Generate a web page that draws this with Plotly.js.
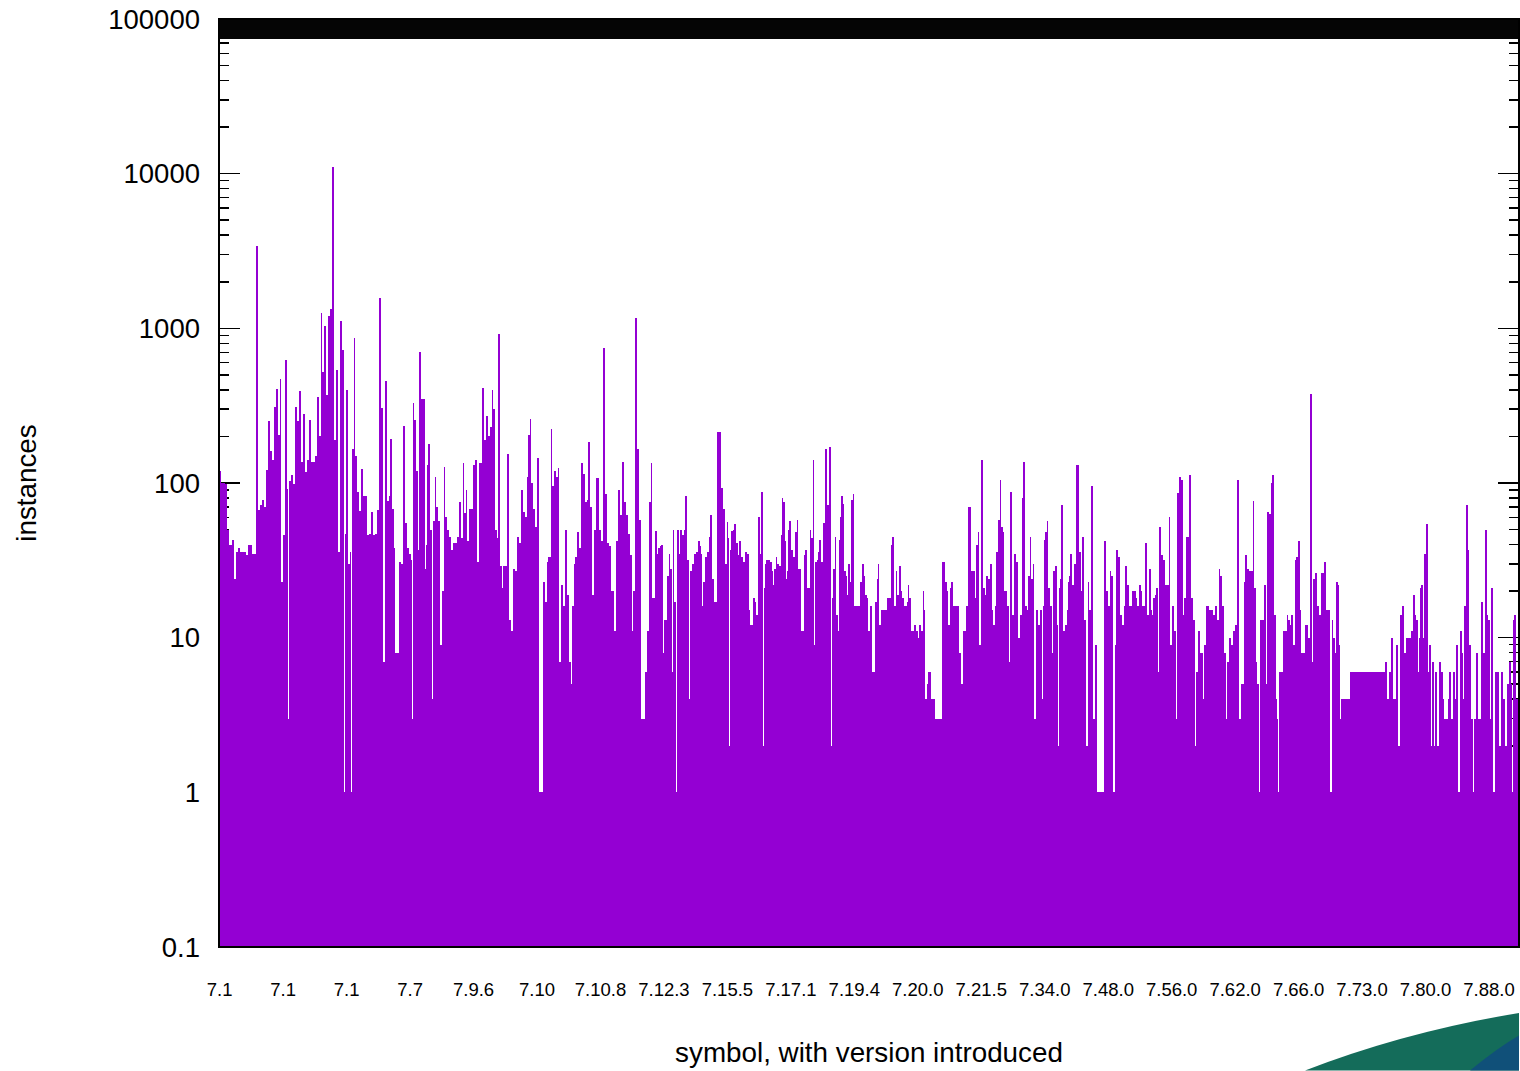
<!DOCTYPE html>
<html><head><meta charset="utf-8">
<script src="https://cdn.plot.ly/plotly-3.0.1.min.js"></script>
<style>html,body{margin:0;padding:0;background:#fff;overflow:hidden}#c{width:1520px;height:1071px}</style>
</head><body><div id="c"></div>
<script>
// [rank within section, instances]
const sectionA=[[12,120],[21,100],[27,100],[33,98],[39,50],[45,40],[54,43],[60,24],[66,36],[72,38],[78,36],[84,36],[90,36],[96,34],[102,40],[108,40],[114,35],[120,35],[128,3400],[132,67],[138,72],[144,78],[150,70],[156,122],[162,253],[168,162],[174,140],[180,310],[186,405],[192,205],[195,470],[201,23],[207,46],[213,620],[219,92],[221,3],[225,103],[231,113],[237,98],[243,310],[249,253],[255,393],[261,137],[267,278],[273,117],[279,140],[285,255],[291,137],[297,137],[303,150],[309,360],[315,200],[318,1260],[324,520],[330,1030],[336,370],[342,1200],[348,1330],[354,11000],[360,190],[366,540],[372,36],[378,1120],[384,720],[387,1],[390,47],[396,400],[402,30],[405,36],[409,1],[414,165],[418,860],[424,150],[429,88],[435,66],[441,124],[447,82],[453,83],[459,46],[465,47],[471,65],[477,46],[483,47],[489,67],[495,1580],[501,305],[507,7],[512,455],[518,77],[524,83],[528,192],[534,68],[537,38],[543,8],[549,8],[555,31],[561,30],[567,235],[573,55],[579,38],[585,35],[591,32],[593,3],[595,330],[600,255],[606,120],[609,37],[615,700],[621,350],[627,350],[630,28],[633,40],[636,130],[642,178],[648,50],[651,4],[657,57],[660,110],[666,70],[672,57],[678,9],[684,20],[687,127]];
const sectionB=[[18,60],[24,50],[30,45],[36,37],[42,41],[48,41],[54,45],[60,75],[66,44],[70,135],[76,64],[80,90],[84,42],[90,68],[96,68],[102,130],[108,140],[114,31],[122,135],[130,410],[135,190],[142,270],[148,200],[154,230],[157,400],[162,300],[168,50],[172,44],[177,920],[183,29],[187,21],[192,29],[198,29],[205,155],[211,13],[216,11],[222,28],[228,27],[234,45],[240,41],[246,90],[252,65],[258,60],[262,110],[268,205],[271,260],[277,100],[283,68],[289,52],[295,145],[301,1],[307,1],[313,23],[319,17],[322,31],[328,33],[335,225],[338,95],[344,120],[350,110],[355,125],[361,7],[367,22],[373,16],[377,50],[383,19],[389,7],[394,5],[398,16],[403,30],[407,33],[414,48],[420,38],[424,135],[431,115],[437,75],[442,78],[447,185],[453,70],[459,19],[465,50],[472,107],[479,50],[485,42],[491,750],[498,85],[504,41],[511,39],[517,20],[524,11],[532,42],[538,90],[544,62],[550,137],[556,75],[562,62],[568,47],[573,34],[578,11],[580,20],[587,1170],[594,165],[601,58],[607,3],[613,3],[619,6],[625,11],[630,75],[634,135],[640,18],[647,49],[653,35],[657,38]];
const sectionC=[[0,39],[6,40],[10,8],[14,13],[20,13],[24,25],[28,35],[34,28],[36,6],[40,50],[46,17],[49,1],[54,50],[58,35],[64,50],[70,46],[74,50],[78,82],[84,32],[87,4],[92,27],[98,30],[104,35],[110,36],[116,42],[122,39],[126,35],[128,16],[132,23],[138,33],[144,36],[147,45],[152,62],[158,24],[166,17],[175,215],[181,215],[187,93],[193,68],[195,2],[197,30],[202,56],[206,44],[208,2],[210,44],[211,37],[215,49],[220,50],[225,54],[231,41],[236,34],[240,42],[246,33],[252,31],[257,36],[263,35],[268,15],[274,12],[282,18],[286,17],[291,14],[297,60],[301,35],[307,88],[309,21],[311,2],[313,21],[316,30],[322,32],[328,32],[334,31],[338,27],[341,22],[345,28],[349,33],[355,30],[360,29],[364,46],[368,80],[372,75],[376,42],[379,24],[382,27],[386,50],[390,57],[396,37],[402,33],[407,48],[412,58],[418,28],[425,11],[431,11],[433,34],[438,37],[443,21],[447,21],[450,50],[455,44],[460,140],[464,9],[468,31],[472,32],[475,36],[479,43],[485,31],[491,55],[497,165],[503,72],[510,170],[514,2],[516,18],[522,28],[526,45],[531,14],[534,11],[537,43],[541,60],[546,82],[550,73],[554,27],[559,25],[563,19],[567,30],[572,23],[575,78],[580,85],[586,16],[592,16],[598,16],[602,23],[608,30],[614,25],[618,19],[622,18],[628,11],[634,16],[640,6],[644,6],[648,17],[652,24],[656,30]];
const sectionD=[[0,12],[6,15],[12,15],[18,15],[24,18],[30,18],[33,40],[40,45],[44,16],[50,27],[54,19],[60,29],[65,20],[68,18],[73,16],[78,16],[82,17],[85,22],[90,18],[93,11],[98,11],[104,12],[110,11],[115,10],[120,12],[125,11],[130,20],[134,15],[138,4],[142,5],[148,6],[155,4],[161,4],[168,3],[176,3],[184,3],[190,31],[197,23],[202,20],[206,12],[212,21],[216,23],[222,16],[228,16],[234,16],[240,8],[246,5],[252,11],[256,11],[262,16],[268,70],[275,27],[281,27],[286,18],[291,40],[295,48],[300,9],[307,140],[313,21],[317,19],[321,25],[326,24],[333,30],[338,15],[342,12],[346,16],[351,36],[356,58],[361,105],[366,52],[370,48],[376,20],[383,16],[388,7],[393,88],[399,14],[405,35],[412,31],[417,10],[423,14],[426,80],[431,137],[437,16],[443,15],[447,25],[451,45],[455,24],[460,30],[465,3],[470,15],[476,12],[482,15],[487,4],[491,16],[494,43],[498,48],[502,57],[506,21],[512,16],[517,8],[522,27],[527,29],[533,12],[535,2],[538,21],[541,24],[546,72],[551,11],[557,12],[562,15],[565,23],[568,25],[574,35],[579,22],[585,30],[592,130],[599,36],[604,20],[609,45],[615,13],[620,2],[625,23],[631,15],[637,95],[642,3],[648,9],[656,1]];
const sectionE=[[3,1],[10,1],[16,42],[22,20],[27,16],[31,27],[37,25],[42,1],[46,9],[52,37],[58,33],[64,14],[68,12],[73,16],[79,29],[84,22],[88,16],[93,16],[99,20],[104,20],[109,18],[114,16],[119,22],[124,20],[128,16],[133,16],[139,41],[145,14],[149,28],[154,15],[158,14],[161,18],[166,19],[171,21],[175,6],[180,52],[186,34],[191,32],[197,22],[203,22],[209,60],[213,9],[218,16],[224,11],[229,3],[234,86],[241,110],[245,105],[250,14],[255,18],[260,45],[265,45],[269,112],[276,18],[283,13],[287,2],[291,6],[297,11],[302,8],[307,8],[310,4],[315,9],[323,16],[329,15],[335,15],[341,14],[347,16],[353,13],[358,28],[364,25],[370,16],[376,8],[380,3],[383,7],[390,10],[396,9],[402,11],[409,12],[415,105],[421,3],[427,5],[434,23],[438,34],[444,28],[450,27],[456,27],[460,76],[465,21],[470,7],[474,5],[478,1],[482,13],[488,13],[494,22],[499,5],[505,65],[510,63],[513,100],[518,113],[524,14],[530,4],[533,3],[536,1],[540,6],[546,6],[552,11],[557,11],[562,14],[567,13],[570,12],[576,14],[581,9],[586,32],[591,33],[596,42],[601,15],[606,8],[612,8],[616,12],[621,12],[626,10],[632,375],[637,7],[642,24],[648,26],[654,16],[658,14]];
const sectionF=[[60,14],[67,26],[76,31],[82,15],[88,15],[92,1],[97,13],[102,10],[106,8],[111,23],[116,22],[119,9],[122,3],[126,4],[130,4],[140,4],[146,4],[152,6],[160,6],[170,6],[180,6],[190,6],[200,6],[210,6],[220,6],[230,6],[240,6],[250,6],[259,7],[264,4],[269,6],[276,10],[281,4],[286,4],[292,9],[298,2],[303,14],[310,16],[315,8],[320,10],[326,10],[331,10],[336,11],[342,19],[347,14],[351,13],[354,6],[357,10],[361,21],[366,22],[370,10],[375,35],[380,54],[386,6],[390,9],[395,2],[399,7],[404,2],[408,6],[413,2],[419,7],[425,6],[430,4],[436,3],[442,3],[446,4],[450,6],[456,3],[462,6],[466,4],[472,9],[477,1],[482,11],[487,8],[490,4],[494,16],[500,72],[506,37],[509,9],[515,3],[521,1],[524,3],[530,8],[537,3],[542,3],[546,17],[552,8],[558,50],[563,14],[567,13],[570,3],[574,21],[581,1],[588,6],[594,6],[600,2],[607,6],[613,4],[619,2],[625,5],[630,7],[635,5],[637,1],[640,13],[646,14],[652,4]];
const sectionStart=[-12,663,1323,1983,2643,3243];
const tickLabels=["7.1","7.1","7.1","7.7","7.9.6","7.10","7.10.8","7.12.3","7.15.5","7.17.1","7.19.4","7.20.0","7.21.5","7.34.0","7.48.0","7.56.0","7.62.0","7.66.0","7.73.0","7.80.0","7.88.0"];
const yTickValues=[0.1,1,10,100,1000,10000,100000];
const yTickLabels=["0.1","1","10","100","1000","10000","100000"];

const sections=[sectionA,sectionB,sectionC,sectionD,sectionE,sectionF];
const symbolRank=[],instances=[];
sections.forEach((s,i)=>s.forEach(p=>{symbolRank.push(p[0]+sectionStart[i]);instances.push(p[1]);}));
const rankMax=3900, tickStep=190.4, tickStart=2;
const edges=symbolRank.map((r,i)=>i===0?0:(r+symbolRank[i-1])/2);
edges.push(rankMax);
const lefts=edges.slice(0,-1), widths=lefts.map((e,i)=>edges[i+1]-e);
const tickRanks=tickLabels.map((_,i)=>tickStart+i*tickStep);
const font='"Liberation Sans", Arial, sans-serif';

const green='#146c5a', blue='#105079';
const data=[
 {type:'bar',x:lefts,y:instances,width:widths,offset:0,marker:{color:'#9400d3',line:{width:0}},hoverinfo:'skip',showlegend:false},
 {type:'scatter',mode:'none',x:[null],y:[null],xaxis:'x2',showlegend:false,hoverinfo:'skip'}
];
const layout={
 width:1520,height:1071,autosize:false,showlegend:false,
 paper_bgcolor:'#fff',plot_bgcolor:'rgba(0,0,0,0)',
 margin:{l:219,r:1,t:18.5,b:123.5,pad:0,autoexpand:false},
 bargap:0,
 font:{family:font,color:'#000'},
 xaxis:{range:[0,rankMax],tickmode:'array',tickvals:tickRanks,ticktext:tickLabels,
   ticks:'outside',ticklen:0,ticklabelstandoff:26,tickfont:{size:18.5,family:font,color:'#000'},
   showgrid:false,zeroline:false,showline:false,tickangle:0,automargin:false,
   title:{text:'symbol, with version introduced',font:{size:27.8,family:font,color:'#000'},standoff:43}},
 xaxis2:{range:[0,rankMax],overlaying:'x',side:'top',anchor:'y',tickmode:'linear',tick0:0,dtick:6,
   ticks:'inside',ticklen:20,tickwidth:2,tickcolor:'#050505',showticklabels:false,
   showgrid:false,zeroline:false,showline:false,automargin:false},
 yaxis:{type:'log',range:[-1,5],tickmode:'array',tickvals:yTickValues,ticktext:yTickLabels,
   ticks:'inside',ticklen:21,tickwidth:1.5,tickcolor:'#000',mirror:'ticks',layer:'below traces',
   minor:{ticks:'inside',ticklen:10,tickwidth:1.5,tickcolor:'#000',dtick:'D1',showgrid:false},
   ticklabelstandoff:18,tickfont:{size:27.5,family:font,color:'#000'},
   showgrid:false,zeroline:false,showline:false,automargin:false,
   title:{text:'instances',font:{size:27.8,family:font,color:'#000'},standoff:63}},
 shapes:[
  {type:'path',xref:'paper',yref:'paper',layer:'below',fillcolor:green,line:{width:0},
   path:'M 0.8354 -0.1331 Q 0.9131 -0.0910 1 -0.0711 L 1 -0.1331 Z'},
  {type:'path',xref:'paper',yref:'paper',layer:'below',fillcolor:blue,line:{width:0},
   path:'M 0.9623 -0.1331 Q 0.984 -0.108 1 -0.0953 L 1 -0.1331 Z'},
  {type:'rect',xref:'paper',yref:'paper',x0:0,x1:1,y0:0,y1:1,layer:'above',line:{color:'#000',width:2}}
 ]
};
Plotly.newPlot('c',data,layout,{displayModeBar:false,staticPlot:true});
</script></body></html>
